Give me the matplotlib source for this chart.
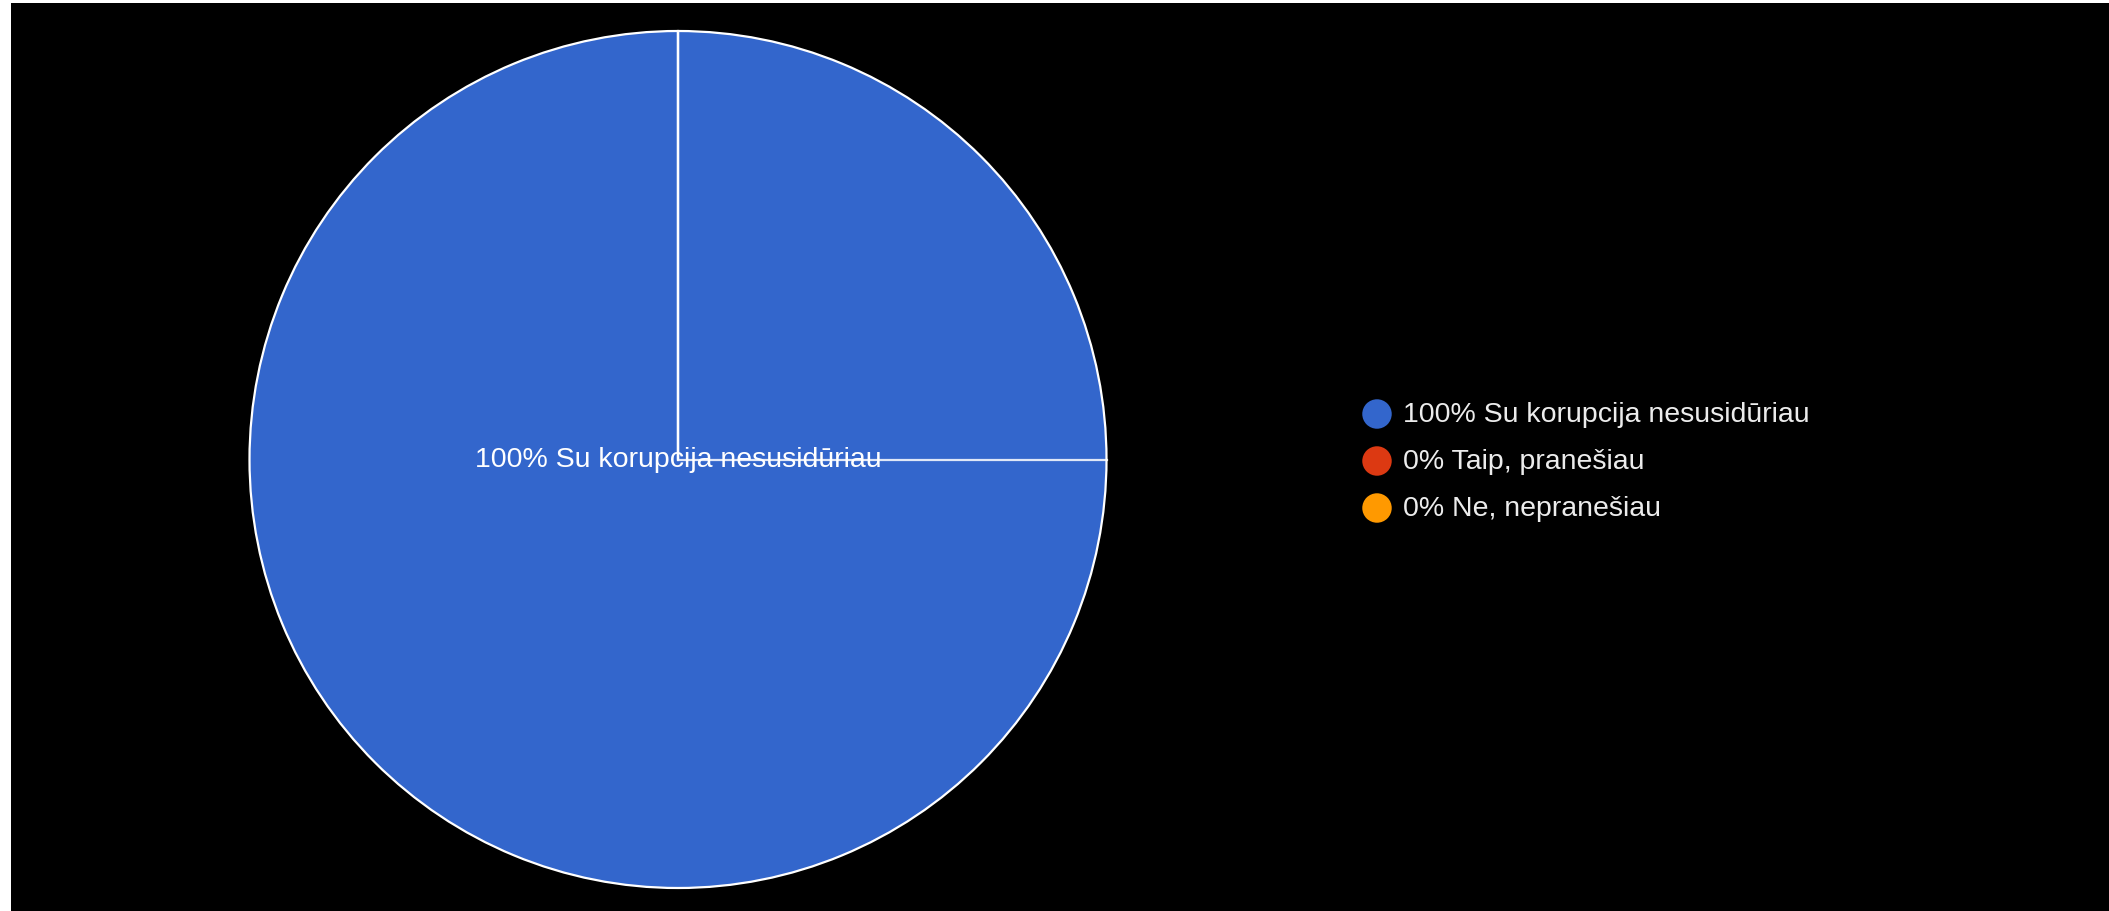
import matplotlib
matplotlib.use("Agg")
import matplotlib.pyplot as plt

plt.rcParams['font.family'] = ['Liberation Sans', 'DejaVu Sans']

# data
labels = ["Su korupcija nesusidūriau", "Taip, pranešiau", "Ne, nepranešiau"]
values = [100, 0, 0]
colors = ["#3366CC", "#DC3912", "#FF9900"]

W, H = 2109, 912
fig = plt.figure(figsize=(W / 100, H / 100), dpi=100, facecolor="white")

# black canvas (thin white strip on left and top like the screenshot)
bg = fig.add_axes([11 / W, 0, 1 - 11 / W, (H - 4) / H])
bg.set_facecolor("black")
bg.set_xticks([])
bg.set_yticks([])
for s in bg.spines.values():
    s.set_visible(False)

# pie
cx, cy, r = 678, 460.5, 428.5 * 1.01
ax = fig.add_axes([(cx - r) / W, (H - cy - r) / H, 2 * r / W, 2 * r / H])
ax.set_facecolor("none")
ax.pie(values, colors=colors, startangle=90, counterclock=False, radius=1,
       wedgeprops=dict(edgecolor="white", linewidth=1.6))
ax.plot([0, 0], [0, 1], color="white", lw=1.6, alpha=0.85)
ax.plot([0, 1], [0, 0], color="white", lw=1.6, alpha=0.85)
ax.set_xlim(-1.01, 1.01)
ax.set_ylim(-1.01, 1.01)
ax.set_aspect("equal")
ax.axis("off")

total = sum(values)
main = values.index(max(values))
ax.text(0, 0, f"{values[main] / total * 100:.0f}% {labels[main]}",
        color="white", fontsize=20.5, ha="center", va="center")

# legend drawn in pixel coordinates
lg = fig.add_axes([0, 0, 1, 1])
lg.set_facecolor("none")
lg.set_xlim(0, W)
lg.set_ylim(H, 0)
lg.axis("off")
for i, (lab, val, col) in enumerate(zip(labels, values, colors)):
    y = 415 + i * 47
    lg.scatter([1377], [y], s=450, color=col, edgecolors="none")
    lg.text(1403, y, f"{val / total * 100:.0f}% {lab}", color="#ececec",
            fontsize=20.5, ha="left", va="center")

fig.savefig("out.png", dpi=100, facecolor=fig.get_facecolor())
